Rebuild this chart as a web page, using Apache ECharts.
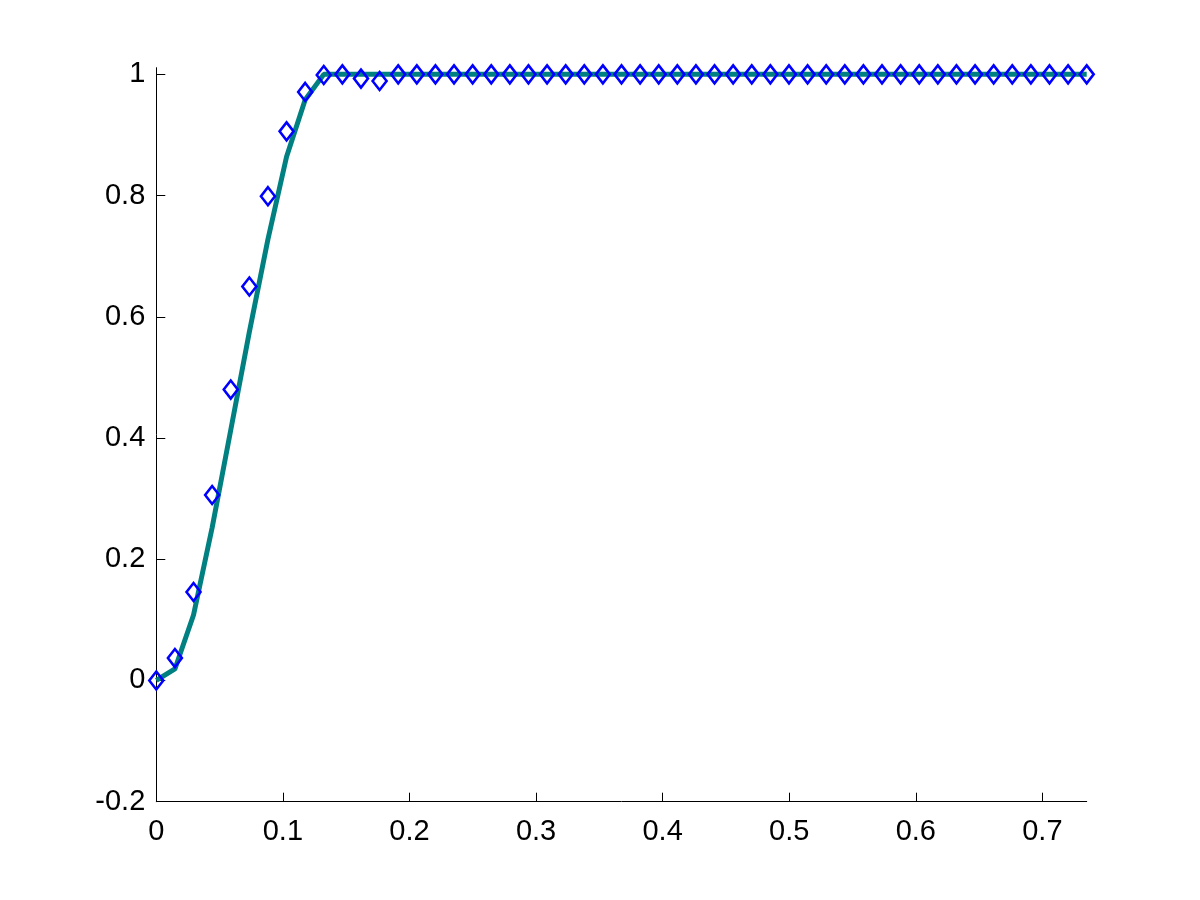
<!DOCTYPE html>
<html>
<head>
<meta charset="utf-8">
<script src="https://cdn.jsdelivr.net/npm/echarts@6/dist/echarts.min.js"></script>
<style>html,body{margin:0;padding:0;background:#fff}#c{width:1200px;height:900px}</style>
</head>
<body>
<div id="c"></div>
<script>
const xValues = [0, 0.0147, 0.0294, 0.0441, 0.0588, 0.0735, 0.0882, 0.1029, 0.1176, 0.1323,
  0.147, 0.1617, 0.1764, 0.1911, 0.2058, 0.2205, 0.2352, 0.2499, 0.2646, 0.2793,
  0.294, 0.3087, 0.3234, 0.3381, 0.3528, 0.3675, 0.3822, 0.3969, 0.4116, 0.4263,
  0.441, 0.4557, 0.4704, 0.4851, 0.4998, 0.5145, 0.5292, 0.5439, 0.5586, 0.5733,
  0.588, 0.6027, 0.6174, 0.6321, 0.6468, 0.6615, 0.6762, 0.6909, 0.7056, 0.7203, 0.735];
const lineValues = [0, 0.019, 0.108, 0.252, 0.413, 0.575, 0.728, 0.864, 0.958, 1.0,
  1, 1, 1, 1, 1, 1, 1, 1, 1, 1,
  1, 1, 1, 1, 1, 1, 1, 1, 1, 1,
  1, 1, 1, 1, 1, 1, 1, 1, 1, 1,
  1, 1, 1, 1, 1, 1, 1, 1, 1, 1, 1];
const markerValues = [0, 0.037, 0.146, 0.306, 0.48, 0.65, 0.799, 0.906, 0.971, 0.999,
  1.0, 0.993, 0.989, 1, 1, 1, 1, 1, 1, 1,
  1, 1, 1, 1, 1, 1, 1, 1, 1, 1,
  1, 1, 1, 1, 1, 1, 1, 1, 1, 1,
  1, 1, 1, 1, 1, 1, 1, 1, 1, 1, 1];
const xTicks = [0, 0.1, 0.2, 0.3, 0.4, 0.5, 0.6, 0.7];
const yTicks = [-0.2, 0, 0.2, 0.4, 0.6, 0.8, 1];

const chart = echarts.init(document.getElementById('c'), null, {renderer: 'canvas'});
const font = {fontFamily: 'Liberation Sans, Arial, sans-serif', fontSize: 29, color: '#000'};
chart.setOption({
  animation: false,
  backgroundColor: '#fff',
  grid: {left: 156.3, right: 113.3, top: 67.7, bottom: 98.3, containLabel: false},
  xAxis: {
    type: 'value', min: 0, max: 0.735,
    axisLine: {show: true, onZero: false, lineStyle: {color: '#000', width: 1}},
    axisTick: {show: true, inside: true, length: 9, customValues: xTicks, lineStyle: {color: '#000'}},
    axisLabel: Object.assign({customValues: xTicks, margin: 16, formatter: v => String(+v.toFixed(1))}, font),
    splitLine: {show: false}
  },
  yAxis: {
    type: 'value', min: -0.2, max: 1.011,
    axisLine: {show: true, onZero: false, lineStyle: {color: '#000', width: 1}},
    axisTick: {show: true, inside: true, length: 9, customValues: yTicks, lineStyle: {color: '#000'}},
    axisLabel: Object.assign({customValues: yTicks, margin: 11, formatter: v => String(+v.toFixed(1))}, font),
    splitLine: {show: false}
  },
  series: [
    {
      type: 'line',
      data: xValues.map((x, i) => [x, lineValues[i]]),
      showSymbol: false,
      lineStyle: {color: '#008080', width: 5},
      z: 2
    },
    {
      type: 'scatter',
      data: xValues.map((x, i) => [x, markerValues[i]]),
      symbol: 'diamond',
      symbolSize: [14, 18],
      itemStyle: {color: 'rgba(0,0,0,0)', borderColor: '#0000ff', borderWidth: 2.6, opacity: 1},
      z: 3
    }
  ]
});
</script>
</body>
</html>
